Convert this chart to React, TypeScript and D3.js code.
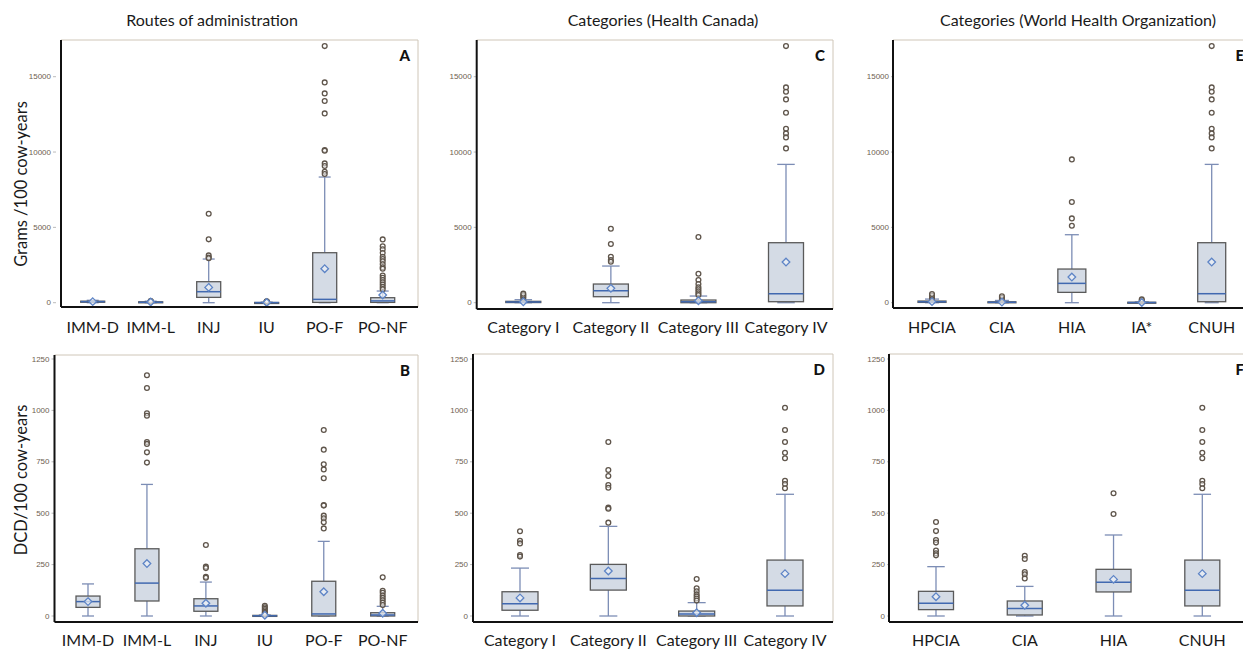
import React from "react";
import * as d3 from "d3";

// ---------- DATA ----------
// stats: [whiskerLow, q1, median, q3, whiskerHigh, mean]
const routes = ["IMM-D", "IMM-L", "INJ", "IU", "PO-F", "PO-NF"];
const hcCategories = ["Category I", "Category II", "Category III", "Category IV"];
const whoCategoriesE = ["HPCIA", "CIA", "HIA", "IA*", "CNUH"];
const whoCategoriesF = ["HPCIA", "CIA", "HIA", "CNUH"];

const statsA = [
  [0, 30, 70, 100, 160, 70],
  [0, 10, 30, 60, 100, 45],
  [0, 354, 730, 1394, 2898, 1017],
  [0, 0, 5, 15, 40, 15],
  [0, 20, 221, 3318, 8340, 2256],
  [0, 20, 120, 332, 774, 509],
];
const outliersA = [
  [],
  [70, 90, 110],
  [5906, 4203, 3141, 3000, 2950],
  [20, 40, 60, 80, 100],
  [17032, 14621, 13891, 13383, 12564, 10131, 10087, 9246, 9070, 8693, 8538],
  [4200, 3750, 3550, 3300, 3050, 2900, 2750, 2550, 2350, 2250, 1800, 1650, 1500, 1350, 1200, 1050, 900],
];

const statsB = [
  [0, 42, 70, 97, 156, 70],
  [0, 73, 160, 327, 640, 255],
  [0, 23, 49, 84, 165, 62],
  [0, 0, 1, 3, 5, 4],
  [0, 0, 10, 169, 363, 118],
  [0, 0, 5, 16, 47, 13],
];
const outliersB = [
  [],
  [1171, 1109, 986, 974, 846, 837, 796, 746],
  [345, 240, 233, 191, 186],
  [50, 42, 35, 28, 20, 14, 8],
  [905, 809, 738, 713, 670, 540, 537, 488, 475, 456, 426],
  [188, 123, 113, 100, 88, 76, 65, 53],
];

const statsC = [
  [0, 10, 40, 90, 200, 60],
  [0, 398, 796, 1239, 2433, 951],
  [0, 0, 66, 177, 442, 133],
  [0, 66, 597, 3982, 9180, 2699],
];
const outliersC = [
  [300, 400, 500, 600],
  [4911, 3893, 3053, 2831, 2721],
  [4358, 1924, 1504, 1239, 1018, 885, 752, 619, 509],
  [17032, 14290, 14002, 13493, 12608, 11546, 11237, 10972, 10242],
];

const statsD = [
  [0, 28, 60, 118, 233, 88],
  [0, 126, 182, 251, 436, 219],
  [0, 0, 10, 24, 65, 16],
  [0, 49, 125, 272, 592, 206],
];
const outliersD = [
  [412, 366, 353, 297, 289],
  [846, 710, 681, 637, 624, 527, 522, 454],
  [180, 135, 120, 105, 95, 85, 75],
  [1013, 905, 846, 794, 767, 658, 642, 621],
];

const statsE = [
  [0, 20, 60, 110, 240, 70],
  [0, 5, 30, 60, 150, 40],
  [0, 686, 1283, 2234, 4512, 1703],
  [0, 0, 10, 30, 50, 15],
  [0, 66, 597, 3982, 9180, 2699],
];
const outliersE = [
  [280, 380, 480, 580],
  [200, 320, 430],
  [9512, 6680, 5596, 5110],
  [80, 150, 220],
  [17032, 14290, 14002, 13493, 12608, 11546, 11237, 10972, 10242],
];

const statsF = [
  [0, 31, 62, 120, 240, 94],
  [0, 5, 37, 73, 144, 52],
  [0, 117, 164, 227, 394, 178],
  [0, 49, 125, 272, 592, 206],
];
const outliersF = [
  [457, 413, 370, 357, 318, 305, 295],
  [293, 277, 214, 203, 183],
  [597, 496],
  [1013, 905, 846, 794, 767, 658, 642, 621],
];

const ticksTop = [0, 5000, 10000, 15000];
const ticksBottom = [0, 250, 500, 750, 1000, 1250];

const columnTitles = [
  "Routes of administration",
  "Categories (Health Canada)",
  "Categories (World Health Organization)",
];
const yTitles = ["Grams /100 cow-years", "DCD/100 cow-years"];

// ---------- STYLE ----------
const FONT = "Lato, 'Open Sans', sans-serif";
const TICK_FONT = "'Liberation Sans', Arial, sans-serif";
const BOX_FILL = "#d4dbe5";
const BOX_STROKE = "#5a5a5a";
const MEDIAN = "#4169b0";
const WHISKER = "#7c8db5";
const MEAN = "#5d84c6";
const OUTLIER = "#5f554b";

const yTopScale = d3.scaleLinear().domain([0, 15000]).range([302.7, 76.7]);
const yBotScale = d3.scaleLinear().domain([0, 1250]).range([616, 359]);

type PanelProps = {
  letter: string;
  cats: string[];
  stats: number[][];
  outliers: number[][];
  y: d3.ScaleLinear<number, number>;
  ticks: number[];
  frame: { l: number; r: number; t: number; b: number };
  xr: [number, number];
  boxW: number;
  tickGap: number;
  labelY: number;
};

function Panel(p: PanelProps) {
  const x = d3.scalePoint<string>().domain(p.cats).range(p.xr);
  const { l, r, t, b } = p.frame;
  const cap = p.boxW * 0.5;
  return (
    <g>
      {/* frame */}
      <line x1={l} x2={r} y1={t} y2={t} stroke="#cfc6b8" strokeWidth={1} />
      <line x1={r} x2={r} y1={t} y2={b} stroke="#cfc6b8" strokeWidth={1} />
      {/* y ticks */}
      {p.ticks.map((v) => (
        <g key={v}>
          <text
            x={l - p.tickGap}
            y={p.y(v)}
            dy="0.33em"
            textAnchor="end"
            fontFamily={TICK_FONT}
            fontSize={8}
            fill="#6e5e50"
          >
            {v}
          </text>
          <line x1={l - p.tickGap + 2} x2={l - p.tickGap + 5} y1={p.y(v)} y2={p.y(v)} stroke="#aaa" strokeWidth={0.8} />
        </g>
      ))}
      {/* boxes */}
      {p.cats.map((c, i) => {
        const [wl, q1, md, q3, wh, mn] = p.stats[i];
        const cx = x(c) as number;
        const ms = 3.8;
        return (
          <g key={c}>
            <line x1={cx} x2={cx} y1={p.y(q3)} y2={p.y(wh)} stroke={WHISKER} strokeWidth={1.3} />
            <line x1={cx} x2={cx} y1={p.y(q1)} y2={p.y(wl)} stroke={WHISKER} strokeWidth={1.3} />
            <line x1={cx - cap / 2} x2={cx + cap / 2} y1={p.y(wh)} y2={p.y(wh)} stroke={WHISKER} strokeWidth={1.3} />
            <line x1={cx - cap / 2} x2={cx + cap / 2} y1={p.y(wl)} y2={p.y(wl)} stroke={WHISKER} strokeWidth={1.3} />
            <rect
              x={cx - p.boxW / 2}
              y={p.y(q3)}
              width={p.boxW}
              height={Math.max(1, p.y(q1) - p.y(q3))}
              fill={BOX_FILL}
              stroke={BOX_STROKE}
              strokeWidth={1.3}
            />
            <line x1={cx - p.boxW / 2} x2={cx + p.boxW / 2} y1={p.y(md)} y2={p.y(md)} stroke={MEDIAN} strokeWidth={1.5} />
            {p.outliers[i].map((o, k) => (
              <circle key={k} cx={cx} cy={p.y(o)} r={2.4} fill="white" fillOpacity={0.5} stroke={OUTLIER} strokeWidth={1.3} />
            ))}
            <path
              d={`M${cx},${p.y(mn) - ms} L${cx + ms},${p.y(mn)} L${cx},${p.y(mn) + ms} L${cx - ms},${p.y(mn)} Z`}
              fill="#eef2f8"
              fillOpacity={0.7}
              stroke={MEAN}
              strokeWidth={1.3}
            />
            <text x={cx} y={p.labelY} textAnchor="middle" fontFamily={FONT} fontSize={16} fill="#1a1a1a">
              {c}
            </text>
          </g>
        );
      })}
      {/* axes */}
      <line x1={l} x2={l} y1={t} y2={b} stroke="#111" strokeWidth={2} />
      <line x1={l} x2={r} y1={b} y2={b} stroke="#111" strokeWidth={2} />
      <text x={r - 8} y={t + 21} textAnchor="end" fontFamily={FONT} fontWeight={900} fontSize={15} fill="#111">
        {p.letter}
      </text>
    </g>
  );
}

export default function App() {
  return (
    <svg width={1243} height={652} style={{ display: "block", position: "absolute", left: 0, top: 0, background: "white" }}>
      <rect width={1243} height={652} fill="white" />
      {columnTitles.map((tt, i) => (
        <text key={tt} x={[212, 663, 1078][i]} y={26} textAnchor="middle" fontFamily={FONT} fontSize={16} fill="#1a1a1a">
          {tt}
        </text>
      ))}
      <text transform="translate(27,184) rotate(-90)" textAnchor="middle" fontFamily={FONT} fontSize={16.5} fill="#1a1a1a">
        {yTitles[0]}
      </text>
      <text transform="translate(27,480) rotate(-90)" textAnchor="middle" fontFamily={FONT} fontSize={16.5} fill="#1a1a1a">
        {yTitles[1]}
      </text>

      <Panel letter="A" cats={routes} stats={statsA} outliers={outliersA} y={yTopScale} ticks={ticksTop}
        frame={{ l: 61, r: 418, t: 40, b: 307 }} xr={[92.7, 382.7]} boxW={24} tickGap={10} labelY={333} />
      <Panel letter="B" cats={routes} stats={statsB} outliers={outliersB} y={yBotScale} ticks={ticksBottom}
        frame={{ l: 54.5, r: 418, t: 355, b: 622 }} xr={[88, 382.7]} boxW={24} tickGap={5} labelY={646} />
      <Panel letter="C" cats={hcCategories} stats={statsC} outliers={outliersC} y={yTopScale} ticks={ticksTop}
        frame={{ l: 476.7, r: 833, t: 40, b: 309 }} xr={[523.3, 786]} boxW={35} tickGap={5} labelY={333} />
      <Panel letter="D" cats={hcCategories} stats={statsD} outliers={outliersD} y={yBotScale} ticks={ticksBottom}
        frame={{ l: 473, r: 833, t: 354, b: 622 }} xr={[520, 785]} boxW={36} tickGap={5} labelY={646} />
      <Panel letter="E" cats={whoCategoriesE} stats={statsE} outliers={outliersE} y={yTopScale} ticks={ticksTop}
        frame={{ l: 893, r: 1252, t: 40, b: 308 }} xr={[932, 1211.7]} boxW={28} tickGap={4} labelY={333} />
      <Panel letter="F" cats={whoCategoriesF} stats={statsF} outliers={outliersF} y={yBotScale} ticks={ticksBottom}
        frame={{ l: 889, r: 1252, t: 354, b: 622 }} xr={[936, 1202.3]} boxW={35} tickGap={4} labelY={646} />
    </svg>
  );
}
